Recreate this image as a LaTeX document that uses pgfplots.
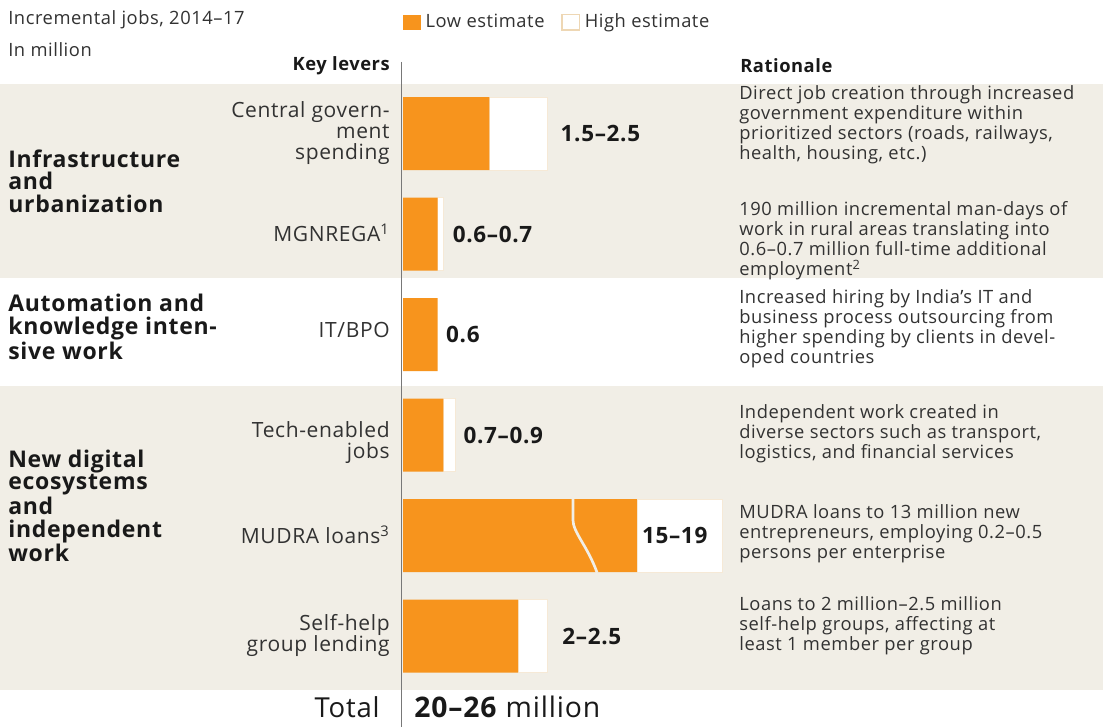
\documentclass[border=0pt]{standalone}
\usepackage{pgfplots}
\pgfplotsset{compat=1.18}
\usepackage{fontspec}
\setmainfont{Open Sans}[LetterSpace=3]
\definecolor{barorange}{RGB}{247,148,29}
\definecolor{band}{RGB}{241,238,230}
\definecolor{txt}{RGB}{50,50,50}
\definecolor{dark}{RGB}{25,25,25}
\definecolor{tan}{RGB}{238,215,180}
\definecolor{vline}{RGB}{120,120,120}
\newcommand{\bodyf}{\fontsize{11}{12}\selectfont}
\newcommand{\groupf}{\fontsize{13.8}{13.6}\selectfont\bfseries}
\newcommand{\keyf}{\fontsize{12.6}{12.6}\selectfont}
\newcommand{\valf}{\fontsize{13.5}{14}\selectfont\bfseries}
\begin{document}
\begin{tikzpicture}
\begin{scope}[x=0.6pt,y=-0.6pt]
\useasboundingbox (0,0) rectangle (1103,727);
\fill[white] (0,0) rectangle (1103,727);
% background bands
\fill[band] (0,84) rectangle (1103,278);
\fill[band] (0,386) rectangle (1103,690);
% vertical axis line
\draw[vline, line width=0.8pt] (401.5,62) -- (401.5,727);
\end{scope}

\begin{axis}[
  at={(241.8pt,-50.4pt)}, anchor=north west,
  scale only axis, width=420pt, height=363.6pt,
  xmin=0, xmax=12.153, ymin=-0.4925, ymax=5.537,
  y dir=reverse,
  xbar stacked, bar width=43.8pt,
  axis lines=none, ticks=none, clip=false,
  legend style={at={(0,1.102)}, anchor=west, draw=none, fill=none,
    font=\bodyf\color{txt}, legend columns=2, inner sep=0pt,
    /tikz/every odd column/.append style={column sep=2pt},
    /tikz/every even column/.append style={column sep=9pt},
    nodes={inner sep=1pt}},
  legend image code/.code={\path[#1] (0pt,-4.6pt) rectangle (10.4pt,4.6pt);},
]
% Low estimate (MUDRA drawn with a broken bar: visual length, actual 15)
\addplot[fill=barorange, draw=none, forget plot] coordinates {
  (1.5,0) (0.6,1) (0.6,2) (0.7,3) (4.06,4) (2.0,5)};
% High minus low (MUDRA visual length, actual 19-15=4)
\addplot[fill=white, draw=tan!55, line width=0.4pt, forget plot] coordinates {
  (1.0,0) (0.1,1) (0.0,2) (0.2,3) (1.49,4) (0.5,5)};
\addlegendimage{fill=barorange, draw=none}
\addlegendentry{Low estimate}
\addlegendimage{fill=white, draw=tan, line width=0.8pt}
\addlegendentry{High estimate}
% anchors for the break symbol and the MUDRA label
\coordinate (b1) at (axis cs:2.95,3.62);
\coordinate (b2) at (axis cs:2.95,3.84);
\coordinate (c1) at (axis cs:2.95,3.97);
\coordinate (c2) at (axis cs:3.2,4.1);
\coordinate (b3) at (axis cs:3.37,4.37);
\coordinate (m) at (axis cs:5.55,4);
% value labels
\node[anchor=west, inner sep=0, text=dark, font=\valf] at (axis cs:2.5,0) [xshift=8pt] {1.5–2.5};
\node[anchor=west, inner sep=0, text=dark, font=\valf] at (axis cs:0.7,1) [xshift=5.5pt] {0.6–0.7};
\node[anchor=west, inner sep=0, text=dark, font=\valf] at (axis cs:0.6,2) [xshift=5pt] {0.6};
\node[anchor=west, inner sep=0, text=dark, font=\valf] at (axis cs:0.9,3) [xshift=5pt] {0.7–0.9};
\node[anchor=west, inner sep=0, text=dark, font=\valf] at (axis cs:2.5,5) [xshift=9pt] {2–2.5};
\end{axis}
% break symbol and MUDRA label on top of the bars
\draw[band, line width=1.6pt] (b1) -- (b2) .. controls (c1) and (c2) .. (b3);
\node[anchor=east, inner sep=0, text=dark, font=\valf] at (m) [xshift=-9pt] {15–19};

\begin{scope}[x=0.6pt,y=-0.6pt]
% top-left titles
\node[anchor=west, inner sep=0, text=txt, font=\bodyf] at (8,20) {Incremental jobs, 2014–17};
\node[anchor=west, inner sep=0, text=txt, font=\bodyf] at (8,50) {In million};
% column headers
\node[anchor=east, inner sep=0, text=dark, font=\bodyf\bfseries] at (390,66) {Key levers};
\node[anchor=west, inner sep=0, text=dark, font=\bodyf\bfseries] at (740,66) {Rationale};

% group labels
\node[anchor=west, inner sep=0, text=dark, font=\groupf, align=left] at (8,181) {Infrastructure\\and\\urbanization};
\node[anchor=west, inner sep=0, text=dark, font=\groupf, align=left] at (8,327) {Automation and\\knowledge inten-\\sive work};
\node[anchor=west, inner sep=0, text=dark, font=\groupf, align=left] at (8,506) {New digital\\ecosystems\\and\\independent\\work};

% key levers
\node[anchor=east, inner sep=0, text=txt, font=\keyf, align=right] at (390,133) {Central govern-\\ment\\spending};
\node[anchor=east, inner sep=0, text=txt, font=\keyf, align=right] at (390,233) {MGNREGA\textsuperscript{1}};
\node[anchor=east, inner sep=0, text=txt, font=\keyf, align=right] at (390,330) {IT/BPO};
\node[anchor=east, inner sep=0, text=txt, font=\keyf, align=right] at (390,443) {Tech-enabled\\jobs};
\node[anchor=east, inner sep=0, text=txt, font=\keyf, align=right] at (390,535) {MUDRA loans\textsuperscript{3}};
\node[anchor=east, inner sep=0, text=txt, font=\keyf, align=right] at (390,635) {Self-help\\group lending};

% rationale
\node[anchor=west, inner sep=0, text=txt, font=\bodyf, align=left] at (739,125) {Direct job creation through increased\\government expenditure within\\prioritized sectors (roads, railways,\\health, housing, etc.)};
\node[anchor=west, inner sep=0, text=txt, font=\bodyf, align=left] at (739,241) {190 million incremental man-days of\\work in rural areas translating into\\0.6–0.7 million full-time additional\\employment\textsuperscript{2}};
\node[anchor=west, inner sep=0, text=txt, font=\bodyf, align=left] at (739,329) {Increased hiring by India’s IT and\\business process outsourcing from\\higher spending by clients in devel-\\oped countries};
\node[anchor=west, inner sep=0, text=txt, font=\bodyf, align=left] at (739,434) {Independent work created in\\diverse sectors such as transport,\\logistics, and financial services};
\node[anchor=west, inner sep=0, text=txt, font=\bodyf, align=left] at (739,534) {MUDRA loans to 13 million new\\entrepreneurs, employing 0.2–0.5\\persons per enterprise};
\node[anchor=west, inner sep=0, text=txt, font=\bodyf, align=left] at (739,626) {Loans to 2 million–2.5 million\\self-help groups, affecting at\\least 1 member per group};

% total
\node[anchor=east, inner sep=0, text=dark, font=\fontsize{16.5}{17}\selectfont] at (380,707) {Total};
\node[anchor=west, inner sep=0, text=dark, font=\fontsize{17}{18}\selectfont] at (414,707) {\textbf{20–26} million};
\end{scope}
\end{tikzpicture}
\end{document}
